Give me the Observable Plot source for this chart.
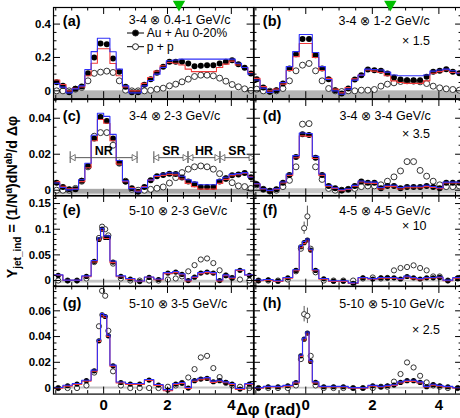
<!DOCTYPE html>
<html>
<head>
<meta charset="utf-8">
<script src="https://cdn.jsdelivr.net/npm/d3@7"></script>
<script src="https://cdn.jsdelivr.net/npm/@observablehq/plot@0.6"></script>
<style>
  body { margin: 0; background: #fff; }
  #fig { position: relative; width: 460px; height: 418px; overflow: hidden;
         font-family: "Liberation Sans", Arial, Helvetica, sans-serif; }
  #fig svg { position: absolute; overflow: visible; }
</style>
</head>
<body>
<div id="fig"></div>
<script>
const PI = Math.PI;

// Δφ bin edges, in units of π/32
const edgesUniform = [-16,-14,-12,-10,-8,-6,-4,-2,0,2,4,6,8,10,12,14,16,18,20,22,24,26,28,30,32,34,36,38,40,42,44,46,48];
const edgesVariable = [-16,-13,-10,-7,-4,-2,-1,0,1,2,4,7,10,13,16,19,22,24,26,28,30,32,34,36,38,40,42,45,48];

// (a) 3-4 ⊗ 0.4-1 GeV/c
const aAuAu = [0.052,0.030,-0.008,0.012,0.026,0.105,0.200,0.283,0.279,0.194,0.115,0.024,-0.008,-0.008,0.036,0.069,0.108,0.144,0.174,0.174,0.174,0.164,0.148,0.150,0.154,0.154,0.164,0.174,0.184,0.160,0.138,0.104];
const aPP   = [0.000,0.000,0.000,0.010,0.020,0.060,0.105,0.112,0.118,0.110,0.060,0.004,0.000,0.000,0.000,0.003,0.010,0.016,0.030,0.040,0.054,0.070,0.086,0.094,0.094,0.090,0.076,0.058,0.038,0.024,0.012,0.003];
const aSysHi = [0.045,0.022,-0.012,0.012,0.030,0.128,0.235,0.315,0.315,0.234,0.130,0.030,-0.012,-0.012,0.030,0.062,0.100,0.140,0.180,0.185,0.190,0.190,0.190,0.190,0.190,0.190,0.190,0.190,0.190,0.165,0.140,0.100];
const aSysLo = [0.065,0.038,0.000,0.015,0.024,0.090,0.165,0.252,0.252,0.164,0.090,0.024,0.000,0.000,0.045,0.080,0.118,0.150,0.170,0.165,0.155,0.130,0.115,0.115,0.115,0.115,0.140,0.160,0.178,0.155,0.140,0.110];

// (b) 3-4 ⊗ 1-2 GeV/c, ×1.5
const bAuAu = [0.070,0.020,-0.006,0.004,0.044,0.134,0.220,0.310,0.310,0.214,0.134,0.070,0.004,-0.016,0.014,0.068,0.094,0.128,0.124,0.120,0.104,0.080,0.068,0.064,0.064,0.064,0.084,0.114,0.120,0.130,0.114,0.106];
const bPP   = [0.010,0.000,-0.002,0.000,0.014,0.060,0.120,0.154,0.164,0.120,0.060,0.014,0.000,-0.004,0.000,0.000,0.004,0.004,0.008,0.028,0.040,0.048,0.056,0.060,0.058,0.054,0.044,0.028,0.018,0.012,0.008,0.004];
const bSysHi = [0.065,0.016,-0.010,0.004,0.050,0.145,0.235,0.338,0.338,0.230,0.145,0.068,0.000,-0.020,0.010,0.064,0.094,0.130,0.128,0.125,0.112,0.095,0.090,0.090,0.090,0.090,0.095,0.118,0.125,0.130,0.120,0.105];
const bSysLo = [0.075,0.025,0.000,0.010,0.040,0.122,0.205,0.284,0.284,0.200,0.122,0.075,0.010,-0.012,0.020,0.072,0.094,0.125,0.118,0.110,0.090,0.060,0.050,0.045,0.045,0.045,0.060,0.105,0.115,0.125,0.110,0.108];

// (c) 3-4 ⊗ 2-3 GeV/c
const cAuAu = [0.0042,0.0018,0.0005,0.0005,0.0052,0.0135,0.0287,0.0407,0.0385,0.0287,0.0153,0.0048,0.0011,-0.0008,0.0018,0.0055,0.0078,0.0085,0.0092,0.0090,0.0070,0.0048,0.0033,0.0018,0.0018,0.0018,0.0048,0.0065,0.0083,0.0088,0.0095,0.0072];
const cPP   = [0.0000,0.0000,0.0000,0.0010,0.0050,0.0130,0.0300,0.0320,0.0320,0.0250,0.0150,0.0050,0.0005,0.0000,0.0000,0.0005,0.0011,0.0018,0.0040,0.0070,0.0098,0.0117,0.0130,0.0135,0.0130,0.0117,0.0092,0.0065,0.0042,0.0024,0.0020,0.0010];
const cSysHi = [0.0040,0.0015,0.0002,0.0005,0.0058,0.0150,0.0305,0.0428,0.0410,0.0310,0.0165,0.0052,0.0009,-0.0010,0.0016,0.0057,0.0082,0.0090,0.0097,0.0096,0.0078,0.0058,0.0045,0.0030,0.0030,0.0030,0.0058,0.0072,0.0088,0.0092,0.0098,0.0072];
const cSysLo = [0.0048,0.0022,0.0008,0.0008,0.0048,0.0125,0.0275,0.0393,0.0372,0.0275,0.0145,0.0048,0.0014,-0.0005,0.0021,0.0056,0.0076,0.0082,0.0088,0.0085,0.0062,0.0038,0.0020,0.0006,0.0006,0.0006,0.0038,0.0060,0.0080,0.0086,0.0094,0.0075];

// (d) 3-4 ⊗ 3-4 GeV/c, ×3.5
const dAuAu = [0.0033,0.0005,-0.0004,0.0005,0.0042,0.0085,0.0185,0.0311,0.0307,0.0181,0.0085,0.0024,0.0011,0.0000,0.0005,0.0024,0.0048,0.0042,0.0042,0.0011,0.0024,0.0024,0.0011,0.0018,0.0018,0.0018,0.0024,0.0018,0.0011,0.0042,0.0042,0.0042];
const dPP   = [0.0030,0.0005,-0.0005,0.0000,0.0020,0.0055,0.0130,0.0367,0.0370,0.0130,0.0060,0.0010,0.0000,0.0000,0.0005,0.0010,0.0020,0.0024,0.0024,0.0030,0.0050,0.0074,0.0107,0.0159,0.0159,0.0110,0.0078,0.0050,0.0030,0.0020,0.0020,0.0024];
const dSysHi = [0.0036,0.0008,-0.0001,0.0008,0.0046,0.0090,0.0192,0.0318,0.0315,0.0188,0.0090,0.0027,0.0014,0.0003,0.0008,0.0027,0.0051,0.0045,0.0045,0.0015,0.0028,0.0028,0.0015,0.0022,0.0022,0.0022,0.0028,0.0021,0.0014,0.0045,0.0045,0.0045];
const dSysLo = [0.0035,0.0007,-0.0002,0.0006,0.0040,0.0082,0.0180,0.0302,0.0299,0.0176,0.0082,0.0022,0.0010,-0.0002,0.0004,0.0022,0.0046,0.0039,0.0038,0.0007,0.0020,0.0020,0.0007,0.0014,0.0014,0.0014,0.0020,0.0015,0.0009,0.0041,0.0040,0.0040];

// (e) 5-10 ⊗ 2-3 GeV/c
const eAuAu = [0.010,0.000,0.000,0.008,0.0375,0.080,0.100,0.084,0.084,0.036,0.008,0.003,-0.002,0.006,0.002,0.0145,0.0164,0.012,0.000,0.0065,0.0145,0.0164,0.0145,0.000,0.010,0.0053,0.020,0.010];
const ePP   = [0.000,0.000,0.000,0.004,0.036,0.083,0.105,0.100,0.088,0.033,0.004,0.000,0.000,0.000,0.000,0.002,0.004,0.008,0.018,0.030,0.041,0.043,0.034,0.020,0.010,0.005,0.002,0.000];
const eSysHi = [0.011,0.0008,0.0008,0.009,0.039,0.083,0.102,0.087,0.087,0.038,0.009,0.004,-0.001,0.007,0.003,0.0155,0.0175,0.013,0.001,0.0075,0.0155,0.0175,0.0155,0.001,0.011,0.0063,0.021,0.011];
const eSysLo = [0.0105,0.0003,0.0003,0.0075,0.036,0.079,0.098,0.082,0.082,0.035,0.0075,0.0027,-0.0015,0.0065,0.0015,0.0135,0.0155,0.0112,-0.0008,0.0058,0.0135,0.0155,0.0135,-0.0008,0.0095,0.0048,0.0195,0.0105];

// (f) 4-5 ⊗ 4-5 GeV/c, ×10
const fAuAu = [0.000,0.0013,-0.0013,0.0053,0.0198,0.0658,0.0737,0.079,0.0593,0.0198,0.0033,-0.0013,-0.0013,-0.0053,0.0053,0.003,0.0053,0.0053,0.0053,0.003,0.0079,0.0053,0.003,0.0053,0.0053,0.006,0.000,0.0053];
const fPP   = [0.000,0.000,0.000,0.002,0.018,0.062,0.102,0.125,0.062,0.016,0.000,0.000,0.000,0.000,0.004,0.006,0.004,0.005,0.0198,0.0244,0.0263,0.0296,0.0244,0.0198,0.008,0.008,0.000,0.004];
const fPPerr = [0,0,0,0,0,0,0.012,0.02,0,0,0,0,0,0,0,0,0,0,0,0,0,0,0,0,0,0,0,0];
const fSysHi = [0.0008,0.002,-0.0005,0.006,0.021,0.068,0.076,0.081,0.061,0.021,0.004,-0.0005,-0.0005,-0.0045,0.006,0.0038,0.006,0.006,0.006,0.0038,0.0087,0.006,0.0038,0.006,0.006,0.0068,0.0008,0.006];
const fSysLo = [-0.0005,0.0008,-0.0018,0.0048,0.019,0.064,0.072,0.077,0.058,0.019,0.0028,-0.0018,-0.0018,-0.0058,0.005,0.0027,0.0048,0.0048,0.0048,0.0027,0.0068,0.0035,0.0015,0.0045,0.005,0.0057,-0.0005,0.0048];

// (g) 5-10 ⊗ 3-5 GeV/c
const gAuAu = [0.000,0.0018,0.0031,0.0057,0.0134,0.0367,0.0569,0.0556,0.0406,0.0173,0.0043,0.0031,0.0031,0.0062,0.0023,-0.0016,0.0031,0.0039,0.000,0.0057,0.007,0.0075,0.0049,0.0057,0.0044,0.0031,-0.0008,0.003];
const gPP   = [0.000,0.000,0.000,0.002,0.012,0.048,0.0755,0.0717,0.0445,0.013,0.002,0.000,0.000,0.000,0.000,0.001,0.002,0.004,0.0082,0.0147,0.0238,0.025,0.0155,0.0085,0.004,0.002,0.001,0.000];
const gSysHi = [0.0004,0.0022,0.0035,0.0061,0.0139,0.0375,0.0578,0.0565,0.0413,0.0178,0.0047,0.0035,0.0035,0.0066,0.0027,-0.0012,0.0035,0.0043,0.0004,0.0062,0.0076,0.0081,0.0054,0.0061,0.0048,0.0035,-0.0004,0.0034];
const gSysLo = [-0.0002,0.0015,0.0028,0.0054,0.013,0.0362,0.0562,0.055,0.04,0.017,0.004,0.0028,0.0028,0.0059,0.002,-0.002,0.0027,0.0035,-0.0004,0.0053,0.0065,0.007,0.0044,0.0053,0.0041,0.0028,-0.001,0.0027];

// (h) 5-10 ⊗ 5-10 GeV/c, ×2.5
const hAuAu = [0.000,0.001,0.001,0.0018,0.0043,0.025,0.038,0.0427,0.0207,0.0044,0.001,0.001,0.001,0.000,0.000,0.0018,0.001,0.0018,0.0023,0.0044,0.0057,0.0057,0.0044,0.001,0.0026,0.0018,0.001,0.000];
const hPP   = [0.000,0.000,0.000,0.000,0.002,0.0225,0.0574,0.0561,0.025,0.002,0.000,0.000,0.000,0.000,0.000,0.000,0.001,0.001,0.005,0.0109,0.0199,0.016,0.0095,0.0044,0.002,0.001,0.000,0.000];
const hPPerr = [0,0,0,0,0,0,0.006,0.006,0,0,0,0,0,0,0,0,0,0,0,0,0,0,0,0,0,0,0,0];
const hSysHi = [0.0003,0.0013,0.0013,0.0021,0.0047,0.0256,0.0388,0.0435,0.0213,0.0048,0.0013,0.0013,0.0013,0.0003,0.0003,0.0021,0.0013,0.0021,0.0026,0.0048,0.0061,0.0061,0.0048,0.0013,0.0029,0.0021,0.0013,0.0003];
const hSysLo = [-0.0002,0.0008,0.0008,0.0015,0.004,0.0245,0.0373,0.042,0.0202,0.004,0.0008,0.0008,0.0008,-0.0002,-0.0002,0.0015,0.0008,0.0015,0.002,0.0039,0.0052,0.0052,0.004,0.0008,0.0023,0.0015,0.0008,-0.0002];

// near-side / shoulder / head regions marked in (c)
const regionNames = ["NR", "SR", "HR", "SR"];
const regionLo = [-PI / 3, PI / 2, PI - 0.5, PI + 0.5];
const regionHi = [PI / 3, PI - 0.5, PI + 0.5, 3 * PI / 2];

// ---------------------------------------------------------------- layout
const X0 = -PI / 2, X1 = 3 * PI / 2;
const COLS = [{left: 52.7, width: 200.6}, {left: 253.3, width: 209.1}];
const ROWS = [{top: 7.3, height: 91.2}, {top: 98.5, height: 96.5}, {top: 195, height: 90.7}, {top: 285.7, height: 107.6}];
const ROWY = [
  {domain: [-0.047, 0.4994], major: [0, 0.2, 0.4], step: 0.05},
  {domain: [-0.0032, 0.0504], major: [0, 0.02, 0.04], step: 0.005},
  {domain: [-0.011, 0.1657], major: [0, 0.05, 0.1, 0.15], step: 0.01},
  {domain: [-0.0047, 0.0789], major: [0, 0.02, 0.04, 0.06], step: 0.005}
];
const FONT = '"Liberation Sans", Arial, Helvetica, sans-serif';

const panels = [
  {tag: "(a)", col: 0, row: 0, edges: edgesUniform, au: aAuAu, pp: aPP, hi: aSysHi, lo: aSysLo,
   band: [-0.046, 0], bandFill: "#b4b4b4", text: "3-4 ⊗ 0.4-1 GeV/c", tx: 75.3, ty: 16.2, tagY: 19, r: 3, mark: 2.36},
  {tag: "(b)", col: 1, row: 0, edges: edgesUniform, au: bAuAu, pp: bPP, hi: bSysHi, lo: bSysLo,
   band: [-0.046, 0], bandFill: "#b4b4b4", text: "3-4 ⊗ 1-2 GeV/c", tx: 85, ty: 17.7, tagY: 19, r: 3, mark: 2.54,
   factor: "× 1.5", fx: 148.4, fy: 37.7},
  {tag: "(c)", col: 0, row: 1, edges: edgesUniform, au: cAuAu, pp: cPP, hi: cSysHi, lo: cSysLo,
   band: [-0.0022, 0.0005], bandFill: "#a8a8a8", text: "3-4 ⊗ 2-3 GeV/c", tx: 75.6, ty: 21, tagY: 21.5, r: 3, regions: true},
  {tag: "(d)", col: 1, row: 1, edges: edgesUniform, au: dAuAu, pp: dPP, hi: dSysHi, lo: dSysLo,
   band: [-0.002, 0.0008], bandFill: "#c8c8c8", text: "3-4 ⊗ 3-4 GeV/c", tx: 86, ty: 21, tagY: 21.5, r: 3,
   factor: "× 3.5", fx: 148.4, fy: 38.2},
  {tag: "(e)", col: 0, row: 2, edges: edgesVariable, au: eAuAu, pp: ePP, hi: eSysHi, lo: eSysLo,
   band: [-0.005, 0.0005], bandFill: "#c4c4c4", text: "5-10 ⊗ 2-3 GeV/c", tx: 75.6, ty: 19.5, tagY: 20, r: 2.6},
  {tag: "(f)", col: 1, row: 2, edges: edgesVariable, au: fAuAu, pp: fPP, err: fPPerr, hi: fSysHi, lo: fSysLo,
   band: [-0.003, 0.0007], bandFill: "#c8c8c8", text: "4-5 ⊗ 4-5 GeV/c", tx: 85.7, ty: 19.5, tagY: 20, r: 2.6,
   factor: "× 10", fx: 148.4, fy: 35},
  {tag: "(g)", col: 0, row: 3, edges: edgesVariable, au: gAuAu, pp: gPP, hi: gSysHi, lo: gSysLo,
   band: [-0.0008, 0.0008], bandFill: "#c4c4c4", text: "5-10 ⊗ 3-5 GeV/c", tx: 75.6, ty: 21.3, tagY: 22, r: 2.6, xLabels: true},
  {tag: "(h)", col: 1, row: 3, edges: edgesVariable, au: hAuAu, pp: hPP, err: hPPerr, hi: hSysHi, lo: hSysLo,
   band: [-0.0008, 0.0006], bandFill: "#c8c8c8", text: "5-10 ⊗ 5-10 GeV/c", tx: 85.7, ty: 21.3, tagY: 22, r: 2.6, xLabels: true,
   factor: "× 2.5", fx: 158.4, fy: 47.3}
];

function minorTicks([a, b], step, major) {
  const out = [];
  for (let i = Math.ceil(a / step - 1e-9); i * step <= b + 1e-12; i++) {
    const t = +(i * step).toFixed(6);
    if (!major.some(m => Math.abs(m - t) < 1e-9)) out.push(t);
  }
  return out;
}

const fig = document.getElementById("fig");

function drawPanel(p) {
  const c = COLS[p.col], rw = ROWS[p.row], ys = ROWY[p.row];
  const [y0, y1] = ys.domain;
  const e = p.edges.map(k => k * PI / 32);
  const bins = p.au.map((v, i) => ({
    phi: (e[i] + e[i + 1]) / 2, au: v, pp: p.pp[i], err: p.err ? p.err[i] : 0
  }));
  const steps = s => s.flatMap((v, i) => [{phi: e[i], v}, {phi: e[i + 1], v}]);
  const kx = (X1 - X0) / c.width, ky = (y1 - y0) / rw.height;
  const yMinor = minorTicks(ys.domain, ys.step, ys.major);
  const xMajor = [0, 2, 4];
  const xMinor = [-1.5, -1, -0.5, 0.5, 1, 1.5, 2.5, 3, 3.5, 4.5];
  const tick = {stroke: "black", strokeWidth: 1};

  const marks = [
    Plot.rect([p.band], {x1: () => X0, x2: () => X1, y1: d => d[0], y2: d => d[1], fill: p.bandFill}),
    Plot.ruleX(bins.filter(b => b.err > 0), {x: "phi", y1: d => d.pp - d.err, y2: d => d.pp + d.err, stroke: "#555", strokeWidth: 1}),
    Plot.dot(bins, {x: "phi", y: "pp", r: p.r, fill: "white", stroke: "#333", strokeWidth: 1}),
    Plot.dot(bins, {x: "phi", y: "au", r: p.r, fill: "black"}),
    Plot.line(steps(p.lo), {x: "phi", y: "v", stroke: "#f03a3a", strokeWidth: 1.1}),
    Plot.line(steps(p.hi), {x: "phi", y: "v", stroke: "#3030f8", strokeWidth: 1.1}),
    Plot.frame({stroke: "black", strokeWidth: 1.2}),
    // inward ticks on all four sides
    Plot.ruleY(ys.major, {x1: () => X0, x2: () => X0 + 7 * kx, ...tick}),
    Plot.ruleY(ys.major, {x1: () => X1 - 7 * kx, x2: () => X1, ...tick}),
    Plot.ruleY(yMinor, {x1: () => X0, x2: () => X0 + 3.5 * kx, ...tick}),
    Plot.ruleY(yMinor, {x1: () => X1 - 3.5 * kx, x2: () => X1, ...tick}),
    Plot.ruleX(xMajor, {y1: () => y0, y2: () => y0 + 7 * ky, ...tick}),
    Plot.ruleX(xMajor, {y1: () => y1 - 7 * ky, y2: () => y1, ...tick}),
    Plot.ruleX(xMinor, {y1: () => y0, y2: () => y0 + 3.5 * ky, ...tick}),
    Plot.ruleX(xMinor, {y1: () => y1 - 3.5 * ky, y2: () => y1, ...tick}),
    Plot.text([p.tag], {frameAnchor: "top-left", dx: 9.3, dy: p.tagY, text: d => d, textAnchor: "start",
      lineAnchor: "bottom", fontSize: 14.5, fontWeight: "bold", fill: "black"}),
    Plot.text([p.text], {frameAnchor: "top-left", dx: p.tx, dy: p.ty, text: d => d, textAnchor: "start",
      lineAnchor: "bottom", fontSize: 12.5, fill: "black"})
  ];

  if (p.factor) {
    marks.push(Plot.text([p.factor], {frameAnchor: "top-left", dx: p.fx, dy: p.fy, text: d => d,
      textAnchor: "start", lineAnchor: "bottom", fontSize: 12.5, fill: "black"}));
  }
  if (p.mark != null) {
    marks.push(Plot.dot([p.mark], {x: d => d, frameAnchor: "top", dy: -3.2, symbol: "triangle",
      rotate: 180, r: 4.6, fill: "#00c000", stroke: "none"}));
  }
  if (p.regions) {
    const level = 0.0181, half = 0.0033, gap = 0.04;
    const regs = regionNames.map((name, i) => ({name, lo: regionLo[i], hi: regionHi[i]}));
    marks.push(
      Plot.ruleY(regs, {x1: d => d.lo + gap, x2: d => d.hi - gap, y: () => level, stroke: "#555", strokeWidth: 1}),
      Plot.ruleX(regs.flatMap(d => [d.lo, d.hi]), {x: d => d, y1: () => level - half, y2: () => level + half,
        stroke: "#777", strokeWidth: 1.3}),
      Plot.dot(regs, {x: d => d.lo + gap + 0.06, y: () => level, symbol: "triangle", rotate: -90, r: 2.3,
        fill: "white", stroke: "#555", strokeWidth: 0.8}),
      Plot.dot(regs, {x: d => d.hi - gap - 0.06, y: () => level, symbol: "triangle", rotate: 90, r: 2.3,
        fill: "white", stroke: "#555", strokeWidth: 0.8}),
      Plot.text(regs, {x: d => (d.lo + d.hi) / 2, y: () => level, text: "name", dy: -2.7, lineAnchor: "bottom",
        fontSize: 12.5, fontWeight: "bold", fill: "black"})
    );
  }
  if (p.col === 0) {
    marks.push(Plot.axisY({ticks: ys.major, anchor: "left", tickSize: 0, tickPadding: 2.5, label: null,
      tickFormat: d => String(d), fontSize: 11.5, fontWeight: "bold", fill: "black"}));
  }
  if (p.xLabels) {
    marks.push(Plot.axisX({ticks: xMajor, anchor: "bottom", tickSize: 0, tickPadding: 5.5, label: null,
      tickFormat: d => String(d), fontSize: 15, fontWeight: "bold", fill: "black"}));
  }

  const svg = Plot.plot({
    width: c.width, height: rw.height,
    marginTop: 0, marginRight: 0, marginBottom: 0, marginLeft: 0,
    x: {domain: [X0, X1], axis: null},
    y: {domain: ys.domain, axis: null},
    style: {background: "transparent", overflow: "visible", maxWidth: "none", fontFamily: FONT, color: "black"},
    marks
  });
  svg.style.left = c.left + "px";
  svg.style.top = rw.top + "px";
  fig.appendChild(svg);
}

panels.forEach(drawPanel);

// legend, axis titles
const over = d3.create("svg").attr("width", 460).attr("height", 418)
  .style("left", "0px").style("top", "0px").style("font-family", FONT);
const leg = over.append("g");
[{y: 33, label: "Au + Au 0-20%", fill: "black"}, {y: 46.7, label: "p + p", fill: "white"}].forEach(d => {
  leg.append("line").attr("x1", 127).attr("x2", 144).attr("y1", d.y).attr("y2", d.y).attr("stroke", "black");
  leg.append("circle").attr("cx", 135.5).attr("cy", d.y).attr("r", 3).attr("fill", d.fill).attr("stroke", "#222");
  leg.append("text").attr("x", 146.7).attr("y", d.y + 4.3).attr("font-size", 12).text(d.label);
});

const yt = over.append("text").attr("transform", "translate(17,197) rotate(-90)")
  .attr("text-anchor", "middle").attr("font-size", 14.2).attr("font-weight", "bold");
yt.append("tspan").text("Y");
yt.append("tspan").attr("dy", 3.5).attr("font-size", 10).text("jet_ind");
yt.append("tspan").attr("dy", -3.5).text(" = (1/N");
yt.append("tspan").attr("dy", -5.5).attr("font-size", 10).text("a");
yt.append("tspan").attr("dy", 5.5).text(")dN");
yt.append("tspan").attr("dy", -5.5).attr("font-size", 10).text("ab");
yt.append("tspan").attr("dy", 5.5).text("/d Δφ");

over.append("text").attr("x", 236).attr("y", 415).attr("font-size", 16.5).attr("font-weight", "bold")
  .text("Δφ (rad)");
fig.appendChild(over.node());
</script>
</body>
</html>
